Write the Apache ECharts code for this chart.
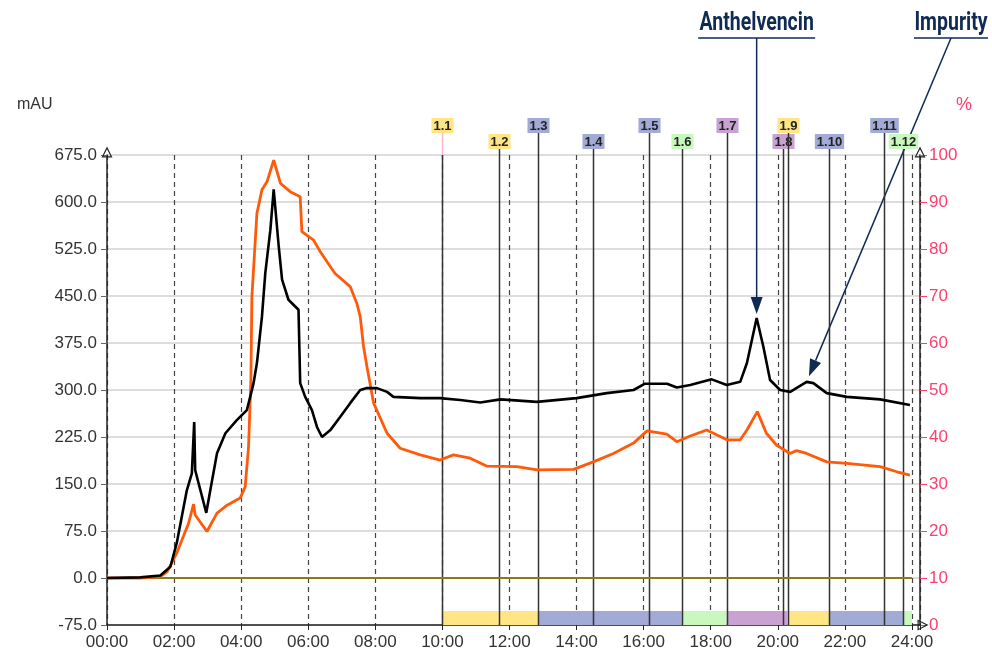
<!DOCTYPE html>
<html>
<head>
<meta charset="utf-8">
<title>Chromatogram</title>
<script src="https://cdn.jsdelivr.net/npm/echarts@6/dist/echarts.min.js"></script>
<style>
  html, body { margin: 0; padding: 0; background: #fff; }
  #main { width: 992px; height: 655px; }
</style>
</head>
<body>
<div id="main"></div>
<script>
// UV 信号 (mAU)，时间单位为小时
var uvTime = [0, 0.99, 1.59, 1.89, 2.08, 2.38, 2.53, 2.60, 2.63, 2.96, 3.08, 3.28, 3.53, 3.87, 4.17, 4.27,
  4.37, 4.47, 4.62, 4.72, 4.87, 4.97, 5.12, 5.22, 5.41, 5.71, 5.76, 5.91, 6.11, 6.26, 6.41, 6.66,
  6.95, 7.25, 7.55, 7.75, 8.05, 8.35, 8.54, 9.34, 9.93, 10.53, 11.13, 11.73, 12.82, 14.0,
  14.9, 15.7, 16.04, 16.7, 16.99, 17.39, 18.03, 18.48, 18.88, 19.08, 19.37, 19.57, 19.77,
  20.07, 20.37, 20.86, 21.06, 21.46, 22.06, 23.05, 23.94];
var uvValue = [0, 1, 4, 18, 56, 140, 167, 249, 172, 104, 140, 199, 231, 252, 268, 289,
  311, 343, 417, 487, 555, 620, 529, 476, 444, 428, 311, 289, 268, 241, 225, 236,
  257, 279, 300, 303, 303, 297, 289, 287, 287, 284, 280, 285, 281, 287,
  295, 300, 310, 310, 304, 308, 317, 308, 313, 343, 415, 369, 316,
  300, 297, 313, 311, 295, 289, 285, 276];

// 百分比曲线 (%)
var percentTime = [0, 1.0, 1.59, 1.79, 2.08, 2.43, 2.58, 2.63, 2.98, 3.28, 3.58, 3.97, 4.12, 4.22, 4.29, 4.32,
  4.47, 4.62, 4.77, 4.97, 5.17, 5.46, 5.76, 5.81, 6.16, 6.36, 6.56, 6.8, 7.25, 7.45, 7.55, 7.65,
  7.75, 7.95, 8.35, 8.74, 9.34, 9.93, 10.33, 10.83, 11.33, 12.22, 12.82, 13.91, 14.5, 15.1,
  15.7, 16.1, 16.69, 16.99, 17.39, 17.88, 18.48, 18.88, 19.08, 19.39, 19.66, 19.96, 20.36,
  20.56, 20.86, 21.46, 22.06, 23.05, 23.55, 23.94];
var percentValue = [10, 10, 10.3, 11.3, 15.3, 21.6, 25.7, 23.4, 19.9, 23.8, 25.5, 27.0, 29.4, 37.9, 52, 69.9,
  87.6, 92.6, 94.3, 98.9, 94, 92.2, 91.1, 83.7, 81.9, 79.4, 77.3, 74.8, 72, 68.4, 65.6, 59.2,
  55, 47.2, 40.8, 37.6, 36.2, 35.1, 36.2, 35.5, 33.8, 33.7, 33, 33.1, 34.7, 36.5,
  38.7, 41.3, 40.6, 39, 40.2, 41.5, 39.4, 39.4, 41.5, 45.4, 40.8, 38.3, 36.5,
  37.1, 36.5, 34.7, 34.4, 33.7, 32.6, 31.9];

// 基线
var baseTime = [0, 24];
var baseValue = [0, 0];

// 馏分
var fracNames = ['1.1', '1.2', '1.3', '1.4', '1.5', '1.6', '1.7', '1.8', '1.9', '1.10', '1.11', '1.12'];
var fracStart = [10.0, 11.68, 12.86, 14.5, 16.16, 17.14, 18.48, 20.17, 20.29, 21.54, 23.18, 23.74];
var fracEnd = 24.0;
var fracGroup = ['A', 'A', 'B', 'B', 'B', 'C', 'D', 'D', 'A', 'B', 'B', 'C'];

// 峰标注
var peakNames = ['Anthelvencin', 'Impurity'];
var peakTime = [19.37, 20.86];
var peakValue = [415, 313];

// 坐标轴刻度
var xMin = 0, xMax = 24.24, xStep = 2;
var leftMin = -75, leftMax = 675, leftStep = 75;
var rightMin = 0, rightMax = 100, rightStep = 10;

var groupColor = { A: '#ffe583', B: '#a2aad6', C: '#c9f8bf', D: '#c8a2d2' };
var labelFont = '"Liberation Sans", Arial, sans-serif';
var pink = '#ff3d6e';
var arrowPath = 'path://M5,0 L10,10 L0,10 Z M5,2.4 L1.7,8.9 L8.3,8.9 Z';

function pairs (t, v) {
  return t.map(function (x, i) { return [x, v[i]]; });
}

function pad2 (n) {
  return (n < 10 ? '0' : '') + n;
}

var fracData = fracStart.map(function (s, i) {
  var e = i + 1 < fracStart.length ? fracStart[i + 1] : fracEnd;
  return [s, e, i % 2];
});

// 馏分标记：底部色块 + 竖线 + 标签
function renderFraction (params, api) {
  var i = params.dataIndex;
  var p0 = api.coord([api.value(0), leftMin]);
  var p1 = api.coord([api.value(1), leftMin]);
  var cs = params.coordSys;
  var top = cs.y;
  var bottom = cs.y + cs.height;
  var labelBottom = api.value(2) === 0 ? top - 22 : top - 6;
  var color = groupColor[fracGroup[i]];
  var x = Math.round(p0[0]) + 0.5;
  return {
    type: 'group',
    children: [
      { type: 'rect', shape: { x: p0[0], y: bottom - 14, width: p1[0] - p0[0], height: 14 }, style: { fill: color } },
      { type: 'line', shape: { x1: x, y1: labelBottom, x2: x, y2: top }, style: { stroke: i === 0 ? '#ffb8c8' : '#333', lineWidth: 1.5 } },
      { type: 'line', shape: { x1: x, y1: top, x2: x, y2: bottom }, style: { stroke: '#333', lineWidth: 1.5 } },
      {
        type: 'text', x: x, y: labelBottom,
        style: {
          text: fracNames[i], font: 'bold 13px ' + labelFont, fill: '#222',
          backgroundColor: color, padding: [2, 2, 0, 2], align: 'center', verticalAlign: 'bottom'
        }
      }
    ]
  };
}

var chart = echarts.init(document.getElementById('main'));

var option = {
  animation: false,
  backgroundColor: '#fff',
  grid: { left: 107, right: 72, top: 155, bottom: 30 },
  xAxis: {
    type: 'value',
    min: xMin,
    max: xMax,
    interval: xStep,
    axisLine: {
      show: true, onZero: false,
      symbol: ['none', arrowPath], symbolSize: [11, 11], symbolOffset: [0, 3],
      lineStyle: { color: '#222', width: 1.5 }
    },
    axisTick: { show: true, length: 5, lineStyle: { color: '#222' } },
    axisLabel: {
      color: '#333', fontSize: 17, fontFamily: labelFont, margin: 9,
      formatter: function (v) {
        return Math.abs(v % xStep) < 1e-6 ? pad2(v) + ':00' : '';
      }
    },
    splitLine: { show: true, lineStyle: { color: '#444', type: [5, 4], width: 1.2 } }
  },
  yAxis: [
    {
      type: 'value',
      min: leftMin,
      max: leftMax,
      interval: leftStep,
      axisLine: {
        show: true, onZero: false,
        symbol: ['none', arrowPath], symbolSize: [11, 11], symbolOffset: [0, 3],
        lineStyle: { color: '#222', width: 1.5 }
      },
      axisTick: { show: true, length: 6, lineStyle: { color: '#666' } },
      axisLabel: {
        color: '#333', fontSize: 17, fontFamily: labelFont, margin: 10,
        formatter: function (v) { return v.toFixed(1); }
      },
      splitLine: { show: true, lineStyle: { color: '#d2d2d2', width: 1.5 } }
    },
    {
      type: 'value',
      position: 'right',
      min: rightMin,
      max: rightMax,
      interval: rightStep,
      axisLine: {
        show: true, onZero: false,
        symbol: ['none', arrowPath], symbolSize: [11, 11], symbolOffset: [0, 3],
        lineStyle: { color: '#222', width: 1.5 }
      },
      axisTick: { show: true, length: 7, lineStyle: { color: pink } },
      axisLabel: { color: pink, fontSize: 17, fontFamily: labelFont, margin: 9 },
      splitLine: { show: false }
    }
  ],
  series: [
    {
      type: 'custom',
      name: 'fractions',
      renderItem: renderFraction,
      data: fracData,
      encode: { x: [0, 1], y: 2 },
      clip: false,
      silent: true,
      z: 1
    },
    {
      type: 'line',
      name: 'baseline',
      data: pairs(baseTime, baseValue),
      showSymbol: false,
      lineStyle: { color: '#8c7a14', width: 2.2 },
      z: 2
    },
    {
      type: 'line',
      name: '%',
      yAxisIndex: 1,
      data: pairs(percentTime, percentValue),
      showSymbol: false,
      lineStyle: { color: '#ff5a0a', width: 2.8 },
      z: 3
    },
    {
      type: 'line',
      name: 'mAU',
      data: pairs(uvTime, uvValue),
      showSymbol: false,
      lineStyle: { color: '#000', width: 2.6 },
      z: 4
    }
  ]
};

chart.setOption(option);

// 峰的标注（箭头 + 带下划线的文字）
var annoColor = '#0f2b54';
var annoLabelX = [null, 951];
var annoHalfWidth = [58.5, 37];
var annoGap = [4, 6];
var graphics = [
  { type: 'text', left: 17, top: 97, style: { text: 'mAU', font: '16px ' + labelFont, fill: '#333' } },
  { type: 'text', left: 956, top: 96, style: { text: '%', font: '18px ' + labelFont, fill: pink } }
];

peakNames.forEach(function (name, i) {
  var peak = chart.convertToPixel({ xAxisIndex: 0, yAxisIndex: 0 }, [peakTime[i], peakValue[i]]);
  var lx = annoLabelX[i] === null ? peak[0] : annoLabelX[i];
  var ly = 38;
  var dx = peak[0] - lx;
  var dy = peak[1] - ly;
  var len = Math.sqrt(dx * dx + dy * dy);
  var ux = dx / len, uy = dy / len;
  var tip = [peak[0] - ux * annoGap[i], peak[1] - uy * annoGap[i]];
  var base = [tip[0] - ux * 17, tip[1] - uy * 17];
  var nx = -uy * 6, ny = ux * 6;
  graphics.push(
    {
      type: 'text', x: lx, y: 23, scaleX: 0.75,
      style: { text: name, font: 'bold 26px Roboto, sans-serif', fill: annoColor, align: 'center', verticalAlign: 'middle' }
    },
    {
      type: 'line',
      shape: { x1: lx - annoHalfWidth[i], y1: ly, x2: lx + annoHalfWidth[i], y2: ly },
      style: { stroke: annoColor, lineWidth: 1.5 }
    },
    {
      type: 'line',
      shape: { x1: lx, y1: ly, x2: base[0], y2: base[1] },
      style: { stroke: annoColor, lineWidth: 1.5 }
    },
    {
      type: 'polygon',
      shape: { points: [tip, [base[0] + nx, base[1] + ny], [base[0] - nx, base[1] - ny]] },
      style: { fill: annoColor }
    }
  );
});

chart.setOption({ graphic: graphics });
</script>
</body>
</html>
